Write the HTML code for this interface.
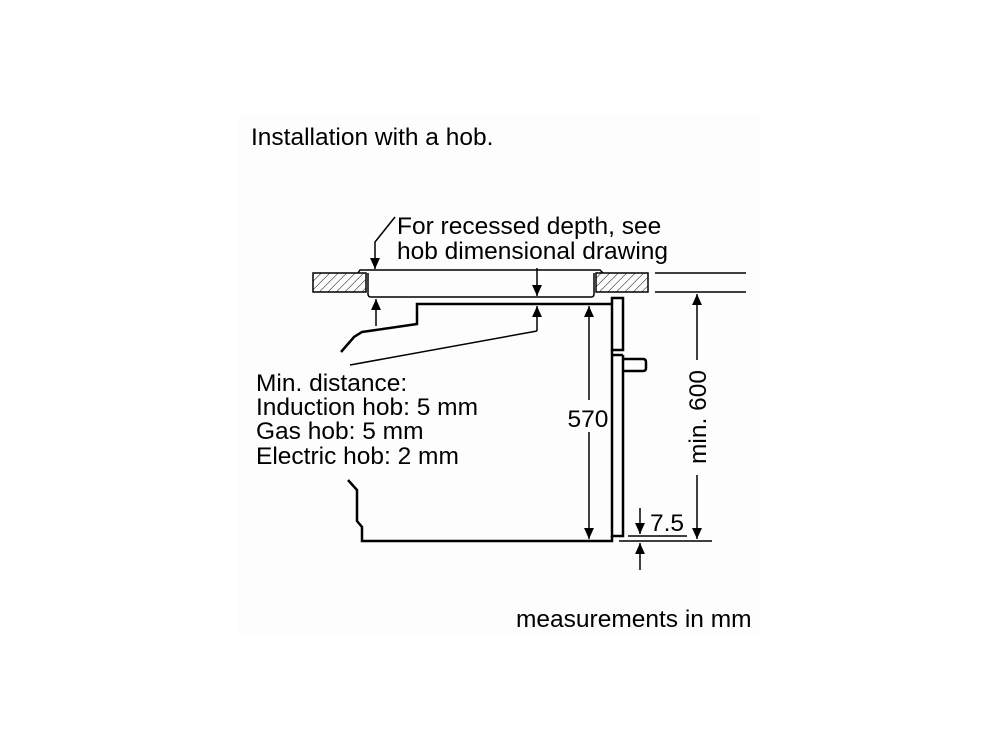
<!DOCTYPE html>
<html><head><style>
html,body{margin:0;padding:0;background:#fff;}
svg{display:block;}
text{font-family:"Liberation Sans",Arial,sans-serif;fill:#000;}
</style></head><body>
<svg width="1000" height="750" viewBox="0 0 1000 750">
<defs>
<pattern id="h" width="6" height="6" patternUnits="userSpaceOnUse" patternTransform="rotate(45)">
<line x1="0" y1="0" x2="0" y2="6" stroke="#000" stroke-width="1"/>
</pattern>
<marker id="a" viewBox="0 0 10 10" refX="10" refY="5" markerWidth="13" markerHeight="11" markerUnits="userSpaceOnUse" orient="auto"><path d="M0,0.5 L10,5 L0,9.5 z" fill="#000"/></marker>
</defs>
<rect x="238" y="115" width="522" height="520" fill="#fdfdfd"/>
<text x="251" y="145" font-size="24.5">Installation with a hob.</text>
<text x="397" y="234" font-size="24.5">For recessed depth, see</text>
<text x="397" y="259" font-size="24.5">hob dimensional drawing</text>
<text x="256" y="391" font-size="24.5">Min. distance:</text>
<text x="256" y="415" font-size="24.5">Induction hob: 5 mm</text>
<text x="256" y="439" font-size="24.5">Gas hob: 5 mm</text>
<text x="256" y="464" font-size="24.5">Electric hob: 2 mm</text>
<text x="516" y="627" font-size="24.5">measurements in mm</text>
<g fill="none" stroke="#000" stroke-width="1.5">
<rect x="313" y="273" width="53" height="19" fill="url(#h)"/>
<rect x="596" y="273" width="52" height="19" fill="url(#h)"/>
<line x1="655" y1="273" x2="746" y2="273"/>
<line x1="655" y1="292" x2="746" y2="292"/>
<path d="M358,273 L360,270 L600,270 L603,273"/>
<path d="M368,273 L368,294 Q368,297 371,297 L591,297 Q594,297 594,294 L594,273"/>
</g>
<g fill="none" stroke="#000" stroke-width="2.5">
<path d="M612,304 L417,304 L417,324 L362,332 L354,337 L341,352"/>
<path d="M348,480 L357,490 L357,521 L362,527 L362,541 L612,541 L612,536"/>
<rect x="612" y="298" width="11" height="52"/>
<path d="M612,350 L612,355 L623,355 M612,355 L612,536 L623,536 L623,355"/>
<path d="M623,359 L643,359 Q646,359 646,362 L646,368 Q646,371 643,371 L623,371"/>
</g>
<g fill="none" stroke="#000" stroke-width="1.5">
<path d="M395,217 L375,242 L375,269" marker-end="url(#a)"/>
<line x1="376" y1="326" x2="376" y2="299" marker-end="url(#a)"/>
<line x1="537" y1="268" x2="537" y2="296" marker-end="url(#a)"/>
<line x1="537" y1="331" x2="537" y2="306" marker-end="url(#a)"/>
<line x1="350" y1="365" x2="537" y2="331"/>
<line x1="589" y1="400" x2="589" y2="306" marker-end="url(#a)"/>
<line x1="589" y1="432" x2="589" y2="539" marker-end="url(#a)"/>
<line x1="697" y1="360" x2="697" y2="294" marker-end="url(#a)"/>
<line x1="697" y1="475" x2="697" y2="539" marker-end="url(#a)"/>
<line x1="640" y1="508" x2="640" y2="534" marker-end="url(#a)"/>
<line x1="640" y1="570" x2="640" y2="543" marker-end="url(#a)"/>
<line x1="628" y1="536" x2="687" y2="536"/>
<line x1="619" y1="541" x2="712" y2="541"/>
</g>
<text x="588" y="427" font-size="24.5" text-anchor="middle">570</text>
<text x="0" y="0" font-size="24.5" text-anchor="middle" transform="translate(706,417) rotate(-90)">min. 600</text>
<text x="650" y="531" font-size="24.5">7.5</text>
</svg>
</body></html>
